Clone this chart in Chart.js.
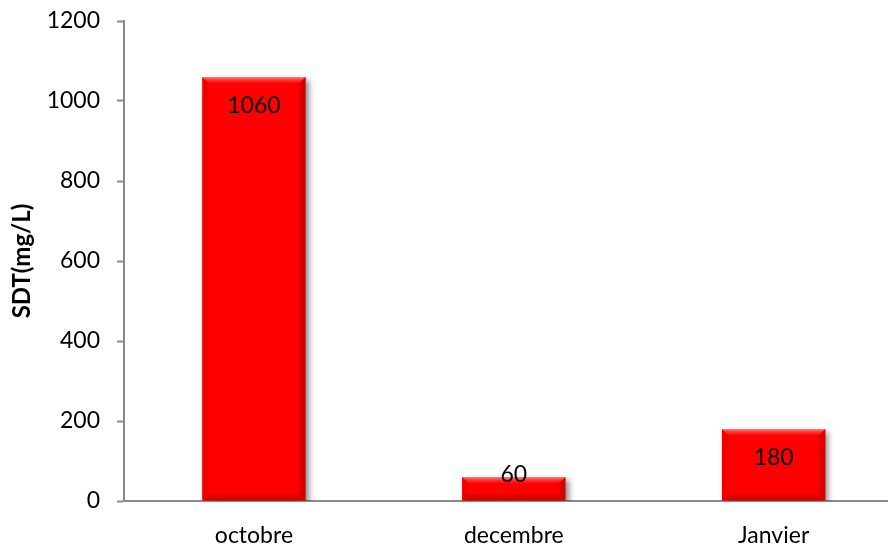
<!DOCTYPE html>
<html>
<head>
<meta charset="utf-8">
<script src="https://cdn.jsdelivr.net/npm/chart.js@4/dist/chart.umd.min.js"></script>
<style>
  html, body { margin: 0; padding: 0; background: #fff; }
  #wrap { width: 888px; height: 548px; }
</style>
</head>
<body>
<div id="wrap"><canvas id="c" width="888" height="548"></canvas></div>
<script>
const categories = ["octobre", "decembre", "Janvier"];
const sdtValues = [1060, 60, 180];
const yTicks = [0, 200, 400, 600, 800, 1000, 1200];
const yTitle = "SDT(mg/L)";

const AXIS = "#8a8a8a";

const shadowPlugin = {
  id: "barShadow",
  beforeDatasetDraw(chart) {
    const ctx = chart.ctx;
    ctx.save();
    ctx.shadowColor = "rgba(0,0,0,0.45)";
    ctx.shadowBlur = 6;
    ctx.shadowOffsetX = 3;
    ctx.shadowOffsetY = 3;
  },
  afterDatasetDraw(chart) {
    chart.ctx.restore();
    const ctx = chart.ctx;
    const meta = chart.getDatasetMeta(0);
    meta.data.forEach(el => {
      const w = el.width;
      const l = el.x - w / 2, r = el.x + w / 2, t = el.y, b = el.base;
      const bv = Math.min(6, (b - t) / 2);
      ctx.save();
      let g = ctx.createLinearGradient(0, t, 0, t + bv);
      g.addColorStop(0, "rgba(255,140,140,0.9)");
      g.addColorStop(1, "rgba(255,60,60,0.2)");
      ctx.fillStyle = g;
      ctx.beginPath();
      ctx.moveTo(l, t); ctx.lineTo(r, t); ctx.lineTo(r - bv, t + bv); ctx.lineTo(l + bv, t + bv); ctx.closePath();
      ctx.fill();
      ctx.fillStyle = "rgba(120,0,0,0.12)";
      ctx.beginPath();
      ctx.moveTo(l, t); ctx.lineTo(l + bv, t + bv); ctx.lineTo(l + bv, b - bv); ctx.lineTo(l, b); ctx.closePath();
      ctx.fill();
      ctx.fillStyle = "rgba(90,0,0,0.25)";
      ctx.beginPath();
      ctx.moveTo(r, t); ctx.lineTo(r - bv, t + bv); ctx.lineTo(r - bv, b - bv); ctx.lineTo(r, b); ctx.closePath();
      ctx.fill();
      ctx.fillStyle = "rgba(90,0,0,0.22)";
      ctx.beginPath();
      ctx.moveTo(l, b); ctx.lineTo(l + bv, b - bv); ctx.lineTo(r - bv, b - bv); ctx.lineTo(r, b); ctx.closePath();
      ctx.fill();
      ctx.restore();
    });
  }
};

const labelPlugin = {
  id: "valueLabels",
  afterDatasetsDraw(chart) {
    const ctx = chart.ctx;
    const meta = chart.getDatasetMeta(0);
    ctx.save();
    ctx.font = "23px Lato";
    ctx.fillStyle = "#000";
    ctx.textAlign = "center";
    ctx.textBaseline = "middle";
    meta.data.forEach((el, i) => {
      const y = Math.min(el.y + 29, el.base - 26);
      ctx.fillText(String(sdtValues[i]), el.x, y);
    });
    ctx.restore();
  }
};

new Chart(document.getElementById("c"), {
  type: "bar",
  data: {
    datasets: [{
      data: categories.map((c, i) => ({ x: i, y: sdtValues[i] })),
      backgroundColor: "#ff0000",
      borderWidth: 0,
      categoryPercentage: 1,
      barPercentage: 0.398
    }]
  },
  options: {
    responsive: false,
    animation: false,
    devicePixelRatio: 1,
    layout: { padding: { top: 21, left: 0, right: 0, bottom: 0 } },
    plugins: { legend: { display: false }, tooltip: { enabled: false } },
    scales: {
      x: {
        type: "linear",
        min: -0.5,
        max: 2.44,
        offset: false,
        afterBuildTicks(scale) { scale.ticks = categories.map((c, i) => ({ value: i })); },
        afterFit(scale) { scale.height = 47; scale.paddingLeft = 0; scale.paddingRight = 0; },
        grid: { display: true, drawOnChartArea: false, drawTicks: false },
        border: { display: true, color: AXIS, width: 2 },
        ticks: {
          padding: 21,
          color: "#000",
          font: { family: "Lato", size: 23 },
          maxRotation: 0,
          autoSkip: false,
          callback: (v) => categories[v]
        }
      },
      y: {
        min: 0,
        max: 1200,
        afterBuildTicks(scale) { scale.ticks = yTicks.map(v => ({ value: v })); },
        afterFit(scale) { scale.width = 124; scale.paddingTop = 0; scale.paddingBottom = 0; },
        grid: { drawOnChartArea: false, drawTicks: true, tickLength: 7, tickColor: AXIS, tickWidth: 2 },
        border: { display: true, color: AXIS, width: 2 },
        ticks: {
          padding: 17,
          color: "#000",
          font: { family: "Lato", size: 23 },
          callback: (v) => String(v)
        },
        title: {
          display: true,
          text: yTitle,
          color: "#000",
          font: { family: "Lato", size: 24, weight: "bold" },
          padding: { top: 8, bottom: 0 }
        }
      }
    }
  },
  plugins: [shadowPlugin, labelPlugin]
});
</script>
</body>
</html>
